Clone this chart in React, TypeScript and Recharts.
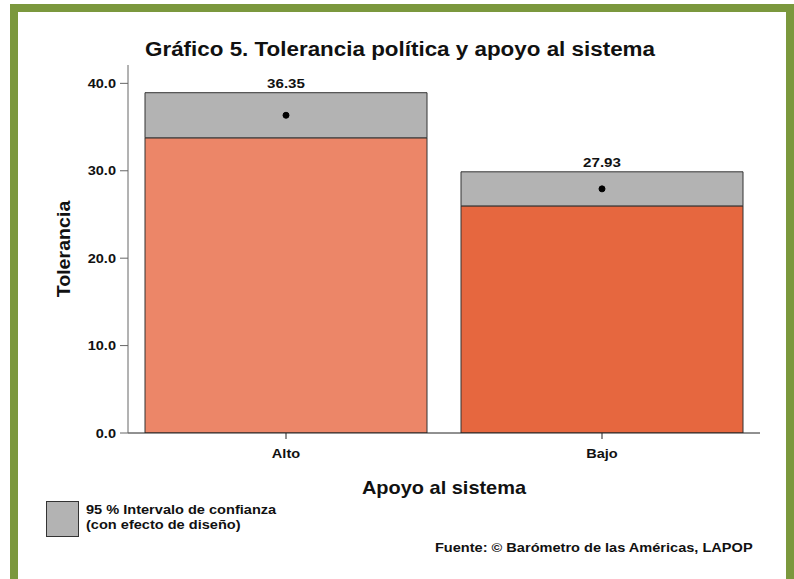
import React from "react";
import { Bar, Cell, ComposedChart, LabelList, Line, XAxis, YAxis } from "recharts";

const categories = ["Alto", "Bajo"];
const means = [36.35, 27.93];
const ciLow = [33.77, 25.98];
const ciHigh = [38.93, 29.88];
const barColors = ["#ec8668", "#e6673f"];
const yTicks = [0, 10, 20, 30, 40];

const data = categories.map((name, i) => ({
  name,
  mean: means[i],
  base: ciLow[i],
  band: ciHigh[i] - ciLow[i],
}));

const font = "'Liberation Sans', Arial, sans-serif";
const SX = 1.12; // the source text is a little wider than Arial

function YTick(props: any) {
  const { x, y, payload } = props;
  return (
    <g transform={`translate(${x},${y})`}>
      <text transform={`scale(${SX},1)`} textAnchor="end" dy="0.35em" fill="#111" fontSize={13} fontWeight={700} fontFamily={font}>
        {Number(payload.value).toFixed(1)}
      </text>
    </g>
  );
}

function XTick(props: any) {
  const { x, y, payload } = props;
  return (
    <g transform={`translate(${x},${y})`}>
      <text transform={`scale(${SX},1)`} textAnchor="middle" dy="0.71em" fill="#111" fontSize={13} fontWeight={700} fontFamily={font}>
        {payload.value}
      </text>
    </g>
  );
}

function MeanLabel(props: any) {
  const { x, y, width, value } = props;
  return (
    <g transform={`translate(${x + width / 2},${y - 4.5})`}>
      <text transform={`scale(${SX},1)`} textAnchor="middle" fill="#111" fontSize={13.5} fontWeight={700} fontFamily={font}>
        {Number(value).toFixed(2)}
      </text>
    </g>
  );
}

const txt = (extra: React.CSSProperties): React.CSSProperties => ({
  position: "absolute",
  fontWeight: 700,
  color: "#111",
  whiteSpace: "nowrap",
  ...extra,
});

export default function App() {
  return (
    <div style={{ position: "absolute", left: 0, top: 0, width: 794, height: 579, overflow: "hidden", background: "#fff", fontFamily: font }}>
      <div
        style={{
          position: "absolute",
          left: 10,
          top: 4,
          width: 784,
          height: 583,
          boxSizing: "border-box",
          border: "8px solid #7b983d",
        }}
      />
      <div style={{ position: "absolute", left: 0, top: 0 }}>
        <ComposedChart width={794} height={579} data={data} margin={{ top: 65, right: 34, bottom: 116, left: 68 }}>
          <XAxis dataKey="name" height={30} stroke="#222" tickSize={6} tickMargin={10} tick={<XTick />} />
          <YAxis
            width={60}
            domain={[0, 42.1]}
            ticks={yTicks}
            allowDataOverflow
            stroke="#666"
            tickSize={8}
            tickMargin={4}
            tick={<YTick />}
          />
          <Bar dataKey="base" stackId="a" barSize={282} stroke="#333" strokeWidth={1} isAnimationActive={false}>
            {data.map((d, i) => (
              <Cell key={d.name} fill={barColors[i]} />
            ))}
          </Bar>
          <Bar dataKey="band" stackId="a" barSize={282} fill="#b3b3b3" stroke="#333" strokeWidth={1} isAnimationActive={false}>
            <LabelList dataKey="mean" content={<MeanLabel />} />
          </Bar>
          <Line
            dataKey="mean"
            stroke="none"
            dot={{ r: 3, fill: "#000", stroke: "#000" }}
            activeDot={false}
            isAnimationActive={false}
          />
        </ComposedChart>
      </div>
      <div style={txt({ left: 0, width: 800, top: 38, textAlign: "center", fontSize: 20, transform: `scaleX(${SX})`, transformOrigin: "400px 0" })}>
        Gráfico 5. Tolerancia política y apoyo al sistema
      </div>
      <div
        style={txt({
          left: 64,
          top: 249,
          transform: "translate(-50%, -50%) rotate(-90deg) scaleX(1.09)",
          fontSize: 18,
        })}
      >
        Tolerancia
      </div>
      <div style={txt({ left: 244, width: 400, top: 477, textAlign: "center", fontSize: 19, transform: "scaleX(1.05)", transformOrigin: "200px 0" })}>
        Apoyo al sistema
      </div>
      <div style={{ position: "absolute", left: 46, top: 501, width: 31, height: 34, background: "#b3b3b3", border: "1px solid #333" }} />
      <div style={txt({ left: 86, top: 503, fontSize: 13, lineHeight: "14.5px", transform: `scaleX(${SX})`, transformOrigin: "0 0" })}>
        95 % Intervalo de confianza
        <br />
        (con efecto de diseño)
      </div>
      <div style={txt({ right: 41, top: 540, fontSize: 13, transform: `scaleX(${SX})`, transformOrigin: "100% 0" })}>
        Fuente: © Barómetro de las Américas, LAPOP
      </div>
    </div>
  );
}
